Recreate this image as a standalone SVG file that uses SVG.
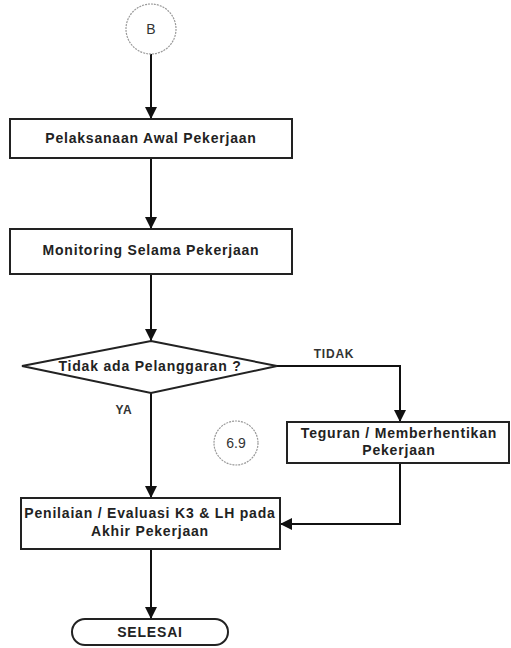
<svg xmlns="http://www.w3.org/2000/svg" width="511" height="648" viewBox="0 0 511 648">
  <style>
    .box { fill: #fff; stroke: #222; stroke-width: 2; }
    .conn { fill: #fff; stroke: #999; stroke-width: 1.2; stroke-dasharray: 2 1; }
    .line { fill: none; stroke: #111; stroke-width: 2; }
    .t { font-family: "Liberation Sans", Arial, sans-serif; font-size: 14px; font-weight: bold; fill: #222; text-anchor: middle; dominant-baseline: central; letter-spacing: 0.8px; }
    .s { font-family: "Liberation Sans", Arial, sans-serif; font-size: 14px; fill: #333; text-anchor: middle; dominant-baseline: central; }
    .lbl { font-family: "Liberation Sans", Arial, sans-serif; font-size: 12px; font-weight: bold; fill: #333; text-anchor: middle; dominant-baseline: central; letter-spacing: 0.8px; }
  </style>
  <defs>
    <marker id="arrow" viewBox="0 0 10 10" refX="10" refY="5" markerWidth="6" markerHeight="6" orient="auto" markerUnits="strokeWidth">
      <path d="M0,0 L10,5 L0,10 z" fill="#111"/>
    </marker>
  </defs>

  <rect width="511" height="648" fill="#fff"/>

  <g id="connectors">
    <line class="line" x1="151" y1="53" x2="151" y2="119" marker-end="url(#arrow)"/>
    <line class="line" x1="151" y1="158" x2="151" y2="229" marker-end="url(#arrow)"/>
    <line class="line" x1="151" y1="274" x2="151" y2="341" marker-end="url(#arrow)"/>
    <polyline class="line" points="277,366 400,366 400,422" marker-end="url(#arrow)"/>
    <line class="line" x1="151" y1="393" x2="151" y2="498" marker-end="url(#arrow)"/>
    <polyline class="line" points="400,463 400,524 280,524" marker-end="url(#arrow)"/>
    <line class="line" x1="151" y1="549" x2="151" y2="619" marker-end="url(#arrow)"/>
    <text class="lbl" x="334" y="354">TIDAK</text>
    <text class="lbl" x="124" y="410">YA</text>
  </g>

  <g id="start-b">
    <circle class="conn" cx="151" cy="29" r="25"/>
    <text class="s" x="151" y="29">B</text>
  </g>

  <g id="pelaksanaan">
    <rect class="box" x="10" y="119" width="282" height="39"/>
    <text class="t" x="151" y="138">Pelaksanaan Awal Pekerjaan</text>
  </g>

  <g id="monitoring">
    <rect class="box" x="10" y="229" width="282" height="45"/>
    <text class="t" x="151" y="250">Monitoring Selama Pekerjaan</text>
  </g>

  <g id="cek-pelanggaran">
    <polygon class="box" points="151,341 277,366 151,393 22,366"/>
    <text class="t" x="150" y="366">Tidak ada Pelanggaran ?</text>
  </g>

  <g id="teguran">
    <rect class="box" x="287" y="422" width="222" height="41"/>
    <text class="t" x="399" y="433">Teguran / Memberhentikan</text>
    <text class="t" x="399" y="450">Pekerjaan</text>
  </g>

  <g id="ref-69">
    <circle class="conn" cx="236" cy="443" r="22"/>
    <text class="s" x="236" y="443">6.9</text>
  </g>

  <g id="penilaian">
    <rect class="box" x="21" y="498" width="259" height="51"/>
    <text class="t" x="150" y="513">Penilaian / Evaluasi K3 &amp; LH pada</text>
    <text class="t" x="150" y="531">Akhir Pekerjaan</text>
  </g>

  <g id="selesai">
    <rect class="box" x="72" y="619" width="156" height="26" rx="13" ry="13"/>
    <text class="t" x="150" y="632" font-size="12" letter-spacing="0.4">SELESAI</text>
  </g>
</svg>
